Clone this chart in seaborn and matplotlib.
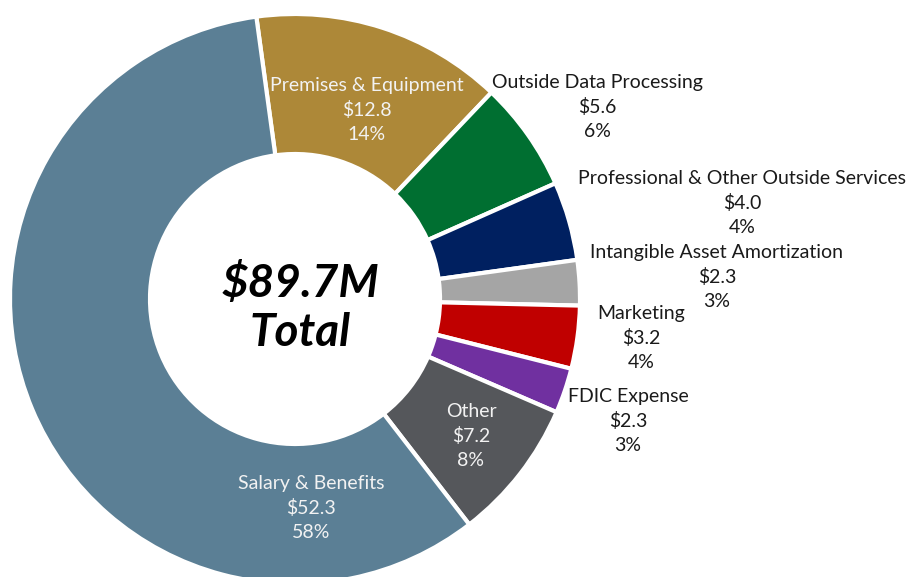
import numpy as np
import matplotlib
matplotlib.use("Agg")
import matplotlib.pyplot as plt
import seaborn as sns

# Expense breakdown ($M), listed clockwise starting from Premises & Equipment
categories = ["Premises & Equipment", "Outside Data Processing",
              "Professional & Other Outside Services", "Intangible Asset Amortization",
              "Marketing", "FDIC Expense", "Other", "Salary & Benefits"]
values = [12.8, 5.6, 4.0, 2.3, 3.2, 2.3, 7.2, 52.3]
percents = [14, 6, 4, 3, 4, 3, 8, 58]
colors = ["#AD8838", "#006F31", "#002060", "#A5A5A5",
          "#C00000", "#7030A0", "#55575B", "#5B7F95"]
total_label = "$89.7M\nTotal"

W, H = 907, 577
sns.set_theme(style="white")
plt.rcParams["font.family"] = ["Lato", "DejaVu Sans"]

fig = plt.figure(figsize=(W / 100, H / 100), dpi=100)
ax = fig.add_axes([0, 0, 1, 1])

# geometry in pixel coordinates (y measured up from the bottom)
cx, cy = 295, H - 299
r_out, r_in = 285, 145

wedges, _ = ax.pie(values, colors=colors, startangle=97.8, counterclock=False,
                   radius=r_out, center=(cx, cy), frame=True,
                   wedgeprops=dict(width=r_out - r_in, edgecolor="white", linewidth=3))
ax.set_xlim(0, W)
ax.set_ylim(0, H)
ax.set_aspect("equal")
ax.axis("off")

# label anchors (pixel coords from top-left), white inside / black outside
label_pos = {
    "Premises & Equipment": (367, 110, "#F2F2F2"),
    "Outside Data Processing": (597, 107, "#1A1A1A"),
    "Professional & Other Outside Services": (742, 203, "#1A1A1A"),
    "Intangible Asset Amortization": (717, 277, "#1A1A1A"),
    "Marketing": (641, 338, "#1A1A1A"),
    "FDIC Expense": (628, 421, "#1A1A1A"),
    "Other": (471, 436, "#F2F2F2"),
    "Salary & Benefits": (311, 508, "#F2F2F2"),
}
for cat, val, pct in zip(categories, values, percents):
    x, y, col = label_pos[cat]
    ax.text(x, H - y, f"{cat}\n${val:.1f}\n{pct}%", ha="center", va="center",
            color=col, fontsize=14, linespacing=1.5)

ax.text(cx + 5, H - 308, total_label, ha="center", va="center",
        fontsize=33, fontweight="bold", fontstyle="italic", color="black",
        linespacing=1.2)

fig.savefig("out.png", dpi=100)
